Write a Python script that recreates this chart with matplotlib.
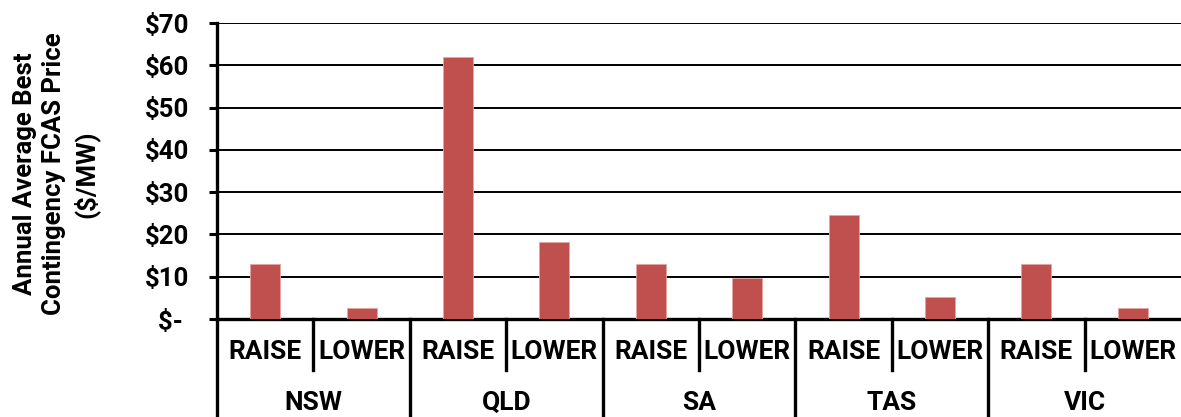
import matplotlib
matplotlib.use("Agg")
import matplotlib.pyplot as plt
import matplotlib.transforms as mtransforms

plt.rcParams['font.family'] = ['Roboto', 'DejaVu Sans']
plt.rcParams['font.weight'] = 'bold'

regions = ['NSW', 'QLD', 'SA', 'TAS', 'VIC']
directions = ['RAISE', 'LOWER']
prices = [13.0, 2.6, 62.0, 18.3, 12.9, 9.7, 24.6, 5.2, 12.9, 2.6]
y_ticks = [0, 10, 20, 30, 40, 50, 60, 70]
y_labels = ['$- ', '$10', '$20', '$30', '$40', '$50', '$60', '$70']

fig = plt.figure(figsize=(11.81, 4.17), dpi=100)
ax = fig.add_axes([217 / 1181, (417 - 319) / 417, 1 - 217 / 1181, (319 - 23) / 417])

n = len(regions) * len(directions)
xs = list(range(n))
ax.bar(xs, prices, width=0.31, color='#C0504D', edgecolor='#E3A5A3', linewidth=0.6, zorder=3)

ax.set_xlim(-0.5, n - 0.5)
ax.set_ylim(0, 70)
ax.set_yticks(y_ticks)
ax.set_yticklabels(y_labels, fontsize=18.5, fontweight='bold')
ax.tick_params(axis='y', length=6, width=2.2, pad=14, direction='out')
ax.set_xticks([])

for y in y_ticks[1:]:
    ax.axhline(y, color='black', lw=1.4, zorder=1)

for side in ['top', 'right']:
    ax.spines[side].set_visible(False)
ax.spines['left'].set_linewidth(2.4)
ax.spines['bottom'].set_linewidth(2.4)
ax.spines['left'].set_bounds(0, 70)

trans = mtransforms.blended_transform_factory(ax.transData, ax.transAxes)

# left spine continues down through the category rows
ax.plot([-0.5, -0.5], [0, -0.34], transform=trans, color='black', lw=2.4, clip_on=False)

for i in range(n):
    ax.text(i, -0.113, directions[i % 2], transform=trans, ha='center', va='center',
            fontsize=19, fontweight='bold')
    edge = i + 0.5
    if i % 2 == 0:
        ax.plot([edge, edge], [0, -0.172], transform=trans, color='black', lw=2.4, clip_on=False)
    elif i < n - 1:
        ax.plot([edge, edge], [0, -0.34], transform=trans, color='black', lw=2.4, clip_on=False)

for j, r in enumerate(regions):
    ax.text(2 * j + 0.5, -0.285, r, transform=trans, ha='center', va='center',
            fontsize=19, fontweight='bold')

fig.text(56 / 1181, 1 - 174 / 417, 'Annual Average Best\nContingency FCAS Price\n($/MW)',
         rotation=90, ha='center', va='center', fontsize=18.5, fontweight='bold',
         linespacing=1.3)

fig.savefig('out.png', dpi=100)
